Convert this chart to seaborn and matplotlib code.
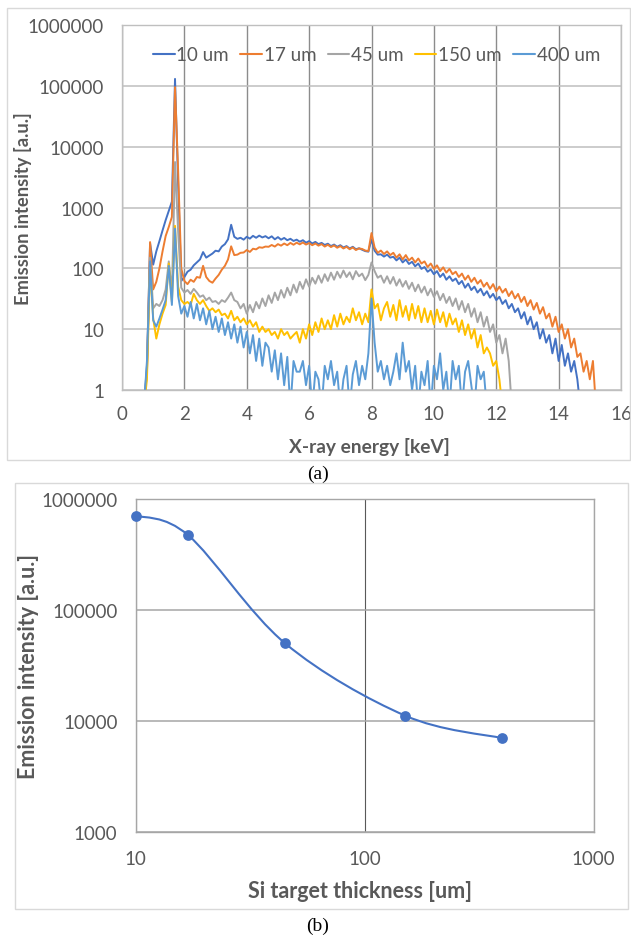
import numpy as np
import pandas as pd
import matplotlib
matplotlib.use("Agg")
import matplotlib.pyplot as plt
import seaborn as sns
from matplotlib.patches import Rectangle, PathPatch
from matplotlib.path import Path
from matplotlib.ticker import FixedLocator, FixedFormatter, NullLocator

# ---------------- data: panel (a) spectra ----------------
energy_kev = [
    0.7, 0.8, 0.9, 1.0, 1.1, 1.2, 1.3, 1.4, 1.5, 1.6,
    1.7, 1.8, 1.9, 2.0, 2.1, 2.2, 2.3, 2.4, 2.5, 2.6,
    2.7, 2.8, 2.9, 3.0, 3.1, 3.2, 3.3, 3.4, 3.5, 3.6,
    3.7, 3.8, 3.9, 4.0, 4.1, 4.2, 4.3, 4.4, 4.5, 4.6,
    4.7, 4.8, 4.9, 5.0, 5.1, 5.2, 5.3, 5.4, 5.5, 5.6,
    5.7, 5.8, 5.9, 6.0, 6.1, 6.2, 6.3, 6.4, 6.5, 6.6,
    6.7, 6.8, 6.9, 7.0, 7.1, 7.2, 7.3, 7.4, 7.5, 7.6,
    7.7, 7.8, 7.9, 8.0, 8.1, 8.2, 8.3, 8.4, 8.5, 8.6,
    8.7, 8.8, 8.9, 9.0, 9.1, 9.2, 9.3, 9.4, 9.5, 9.6,
    9.7, 9.8, 9.9, 10.0, 10.1, 10.2, 10.3, 10.4, 10.5, 10.6,
    10.7, 10.8, 10.9, 11.0, 11.1, 11.2, 11.3, 11.4, 11.5, 11.6,
    11.7, 11.8, 11.9, 12.0, 12.1, 12.2, 12.3, 12.4, 12.5, 12.6,
    12.7, 12.8, 12.9, 13.0, 13.1, 13.2, 13.3, 13.4, 13.5, 13.6,
    13.7, 13.8, 13.9, 14.0, 14.1, 14.2, 14.3, 14.4, 14.5, 14.6,
    14.7, 14.8, 14.9, 15.0, 15.1, 15.2,
]

i_10um = [
    0.5, 2.5, 260, 115, 190, 280, 420, 620, 880, 1250,
    130000, 2500, 62, 72, 88, 95, 112, 125, 140, 185,
    150, 162, 175, 195, 190, 228, 250, 300, 520, 330,
    305, 318, 296, 330, 308, 342, 318, 345, 322, 338,
    312, 336, 300, 326, 296, 316, 290, 306, 282, 296,
    274, 290, 264, 280, 256, 272, 250, 262, 242, 254,
    232, 246, 226, 240, 220, 232, 212, 226, 206, 214,
    202, 192, 188, 300, 195, 168, 170, 156, 168, 150,
    155, 135, 150, 125, 140, 118, 128, 108, 120, 98,
    105, 88, 96, 80, 90, 72, 82, 65, 74, 62,
    68, 55, 62, 48, 56, 44, 50, 40, 46, 36,
    42, 33, 38, 30, 34, 26, 30, 22, 26, 19,
    22, 15, 19, 12, 16, 10, 13, 7, 10, 6,
    8, 4, 7, 3, 5.5, 2.5, 4, 2, 3, 1.5,
    0.5,
]

i_17um = [
    0.5, 2, 270, 45, 60, 100, 190, 340, 480, 700,
    95000, 4000, 100, 62, 55, 65, 60, 72, 70, 110,
    72, 62, 58, 68, 78, 95, 110, 140, 230, 165,
    168, 180, 182, 200, 186, 210, 205, 222, 218, 228,
    226, 242, 228, 250, 236, 256, 240, 262, 244, 264,
    248, 266, 246, 260, 240, 256, 236, 250, 228, 244,
    224, 238, 218, 232, 212, 226, 206, 220, 200, 212,
    208, 196, 192, 380, 220, 180, 196, 172, 190, 165,
    180, 150, 170, 140, 165, 135, 150, 125, 145, 120,
    130, 105, 120, 98, 112, 90, 104, 85, 98, 80,
    88, 72, 82, 65, 76, 60, 70, 56, 64, 50,
    58, 46, 55, 42, 50, 40, 46, 35, 42, 32,
    38, 28, 34, 24, 30, 21, 27, 18, 23, 15,
    18, 11, 16, 9, 12, 7, 10, 5, 7, 3.5,
    4, 2, 3, 1.5, 3, 0.5,
]

i_45um = [
    0.5, 2, 150, 22, 26, 24, 30, 45, 130, 40,
    5600, 400, 48, 40, 44, 38, 46, 40, 34, 36,
    30, 33, 28, 29, 26, 30, 28, 33, 40, 30,
    28, 22, 26, 18, 25, 19, 28, 22, 32, 24,
    36, 27, 40, 30, 44, 33, 48, 36, 54, 40,
    60, 46, 66, 50, 70, 56, 76, 58, 80, 62,
    85, 65, 88, 70, 92, 72, 86, 66, 90, 74,
    82, 64, 78, 125, 90, 70, 76, 58, 74, 56,
    72, 52, 66, 50, 62, 46, 58, 42, 54, 40,
    50, 36, 46, 34, 42, 30, 38, 27, 34, 24,
    32, 21, 29, 19, 26, 16, 22, 13, 19, 11,
    16, 9, 12, 6, 8, 4, 7, 3, 0.5,
]

i_150um = [
    0.5, 1.5, 110, 15, 7, 12, 18, 25, 120, 28,
    500, 50, 30, 26, 28, 25, 38, 30, 26, 30,
    24, 20, 22, 19, 21, 17, 18, 15, 20, 14,
    16, 13, 15, 12, 14, 11, 13, 9, 11, 9,
    10, 8, 9, 7, 10, 8, 9, 7, 8, 9,
    6, 10, 7, 12, 8, 13, 9, 15, 10, 14,
    10, 17, 11, 18, 12, 16, 13, 22, 14, 19,
    12, 18, 13, 45, 22, 26, 14, 22, 28, 16,
    25, 14, 30, 16, 24, 14, 26, 15, 24, 13,
    22, 13, 20, 12, 21, 13, 19, 11, 18, 12,
    15, 9, 14, 8, 12, 7, 10, 5, 8, 4,
    5, 4, 2.5, 3, 1.5, 0.5,
]

i_400um = [
    0.5, 3, 130, 14, 11, 15, 21, 30, 110, 25,
    450, 35, 18, 24, 16, 28, 15, 26, 14, 22,
    12, 20, 10, 16, 9, 15, 8, 13, 7, 12,
    6, 11, 5, 9, 4, 8, 3, 7, 2.5, 6,
    5, 2, 4.5, 1.5, 4, 1.2, 3.5, 0.5, 3, 2,
    2, 3, 1.2, 2.5, 0.5, 2, 1.5, 0.5, 2.5, 1.5,
    3, 1.2, 2, 0.5, 1.5, 2.5, 0.5, 1.8, 3, 1.2,
    2.5, 1.5, 4, 32, 6, 2, 3, 1.5, 2.5, 1.2,
    2, 4, 1.5, 6, 2, 3, 1, 2.5, 0.5, 2,
    1.2, 3, 0.5, 2.5, 1.5, 4, 1, 2, 0.5, 3,
    1.5, 2.5, 0.5, 2, 3, 1.2, 0.5, 2.5, 1.5, 2,
    0.5,
]

series_labels = ["10 um", "17 um", "45 um", "150 um", "400 um"]
series_values = [i_10um, i_17um, i_45um, i_150um, i_400um]
series_colors = ["#4472C4", "#ED7D31", "#A5A5A5", "#FFC000", "#5B9BD5"]

energy_ticks = [0, 2, 4, 6, 8, 10, 12, 14, 16]
intensity_ticks_a = [1, 10, 100, 1000, 10000, 100000, 1000000]
intensity_labels_a = ["1", "10", "100", "1000", "10000", "100000", "1000000"]

# ---------------- data: panel (b) ----------------
thickness_um = [10, 17, 45, 150, 400]
total_intensity = [710000, 470000, 50000, 11200, 7000]
thickness_ticks = [10, 100, 1000]
thickness_labels = ["10", "100", "1000"]
intensity_ticks_b = [1000, 10000, 100000, 1000000]
intensity_labels_b = ["1000", "10000", "100000", "1000000"]

# ---------------- style ----------------
sns.set_theme(style="white")
plt.rcParams["font.family"] = ["Lato", "DejaVu Sans"]
TXT = "#595959"

fig = plt.figure(figsize=(6.31, 9.37), dpi=100)
W, H = 631.0, 937.0

def fx(px):
    return px / W

def fy(py):
    return 1 - py / H

# outer chart boxes
fig.patches.append(Rectangle((fx(7), fy(461)), fx(623), (461 - 9) / H,
                             transform=fig.transFigure, fill=False,
                             edgecolor="#d9d9d9", lw=1.0))
fig.patches.append(Rectangle((fx(15), fy(910)), fx(613), (910 - 484) / H,
                             transform=fig.transFigure, fill=False,
                             edgecolor="#d9d9d9", lw=1.0))

# ---------------- panel (a) ----------------
ax1 = fig.add_axes([fx(122), fy(391), fx(621 - 122), (391 - 26) / H])
rows = []
for lab, vals in zip(series_labels, series_values):
    for e, v in zip(energy_kev, vals):
        rows.append((lab, e, v))
df = pd.DataFrame(rows, columns=["series", "energy", "intensity"])

ax1.set_yscale("log")
sns.lineplot(data=df, x="energy", y="intensity", hue="series",
             hue_order=series_labels, palette=series_colors,
             estimator=None, sort=False, lw=1.4, ax=ax1)
ax1.set_xlim(0, 16)
ax1.set_ylim(1, 1000000)
ax1.xaxis.set_major_locator(FixedLocator(energy_ticks))
ax1.yaxis.set_major_locator(FixedLocator(intensity_ticks_a))
ax1.yaxis.set_major_formatter(FixedFormatter(intensity_labels_a))
ax1.yaxis.set_minor_locator(NullLocator())
ax1.grid(True, axis="y", color="#bfbfbf", lw=1.1)
ax1.grid(True, axis="x", color="#8c8c8c", lw=1.0)
ax1.set_axisbelow(True)
for s in ax1.spines.values():
    s.set_color("#bfbfbf")
    s.set_linewidth(1.0)
ax1.tick_params(axis="both", length=0, labelsize=13.5, colors=TXT)
ax1.tick_params(axis="y", pad=13)
ax1.tick_params(axis="x", pad=11)
ax1.set_xlabel("X-ray energy [keV]", fontsize=13.8, fontweight="bold", color=TXT)
ax1.set_ylabel("Emission intensity [a.u.]", fontsize=13.2, fontweight="bold", color=TXT)
ax1.xaxis.set_label_coords(0.496, -0.128)
ax1.yaxis.set_label_coords(-0.180, 0.5)
h, l = ax1.get_legend_handles_labels()
leg = ax1.legend(h, l, loc="center", bbox_to_anchor=(0.51, 0.918), ncol=5,
                 frameon=False, fontsize=13.5, handlelength=1.15, handletextpad=0.1,
                 columnspacing=0.6, borderaxespad=0)
for t in leg.get_texts():
    t.set_color(TXT)
for lh in leg.get_lines():
    lh.set_linewidth(1.5)

fig.text(fx(318), fy(474), "(a)", ha="center", va="center",
         fontsize=14, family="Liberation Serif", color="black")

# ---------------- panel (b) ----------------
ax2 = fig.add_axes([fx(135.6), fy(833), fx(593.6 - 135.6), (833 - 500) / H])
ax2.set_xscale("log")
ax2.set_yscale("log")
ax2.set_xlim(10, 1000)
ax2.set_ylim(1000, 1000000)

# Excel-style smoothed line (cubic Bezier through the points, built in log space)
lx = np.log10(thickness_um)
ly = np.log10(total_intensity)
n = len(lx)
verts = [(thickness_um[0], total_intensity[0])]
codes = [Path.MOVETO]
for i in range(n - 1):
    p0 = np.array([lx[max(i - 1, 0)], ly[max(i - 1, 0)]])
    p1 = np.array([lx[i], ly[i]])
    p2 = np.array([lx[i + 1], ly[i + 1]])
    p3 = np.array([lx[min(i + 2, n - 1)], ly[min(i + 2, n - 1)]])
    c1 = p1 + (p2 - p0) / 6.0
    c2 = p2 - (p3 - p1) / 6.0
    for c in (c1, c2, p2):
        verts.append((10 ** c[0], 10 ** c[1]))
        codes.append(Path.CURVE4)
ax2.add_patch(PathPatch(Path(verts, codes), transform=ax2.transData,
                        fill=False, edgecolor="#4472C4", lw=1.5, zorder=3))
sns.scatterplot(x=thickness_um, y=total_intensity, color="#4472C4", s=60,
                edgecolor="#4472C4", linewidth=0, ax=ax2, zorder=4, clip_on=False)

ax2.xaxis.set_major_locator(FixedLocator(thickness_ticks))
ax2.xaxis.set_major_formatter(FixedFormatter(thickness_labels))
ax2.yaxis.set_major_locator(FixedLocator(intensity_ticks_b))
ax2.yaxis.set_major_formatter(FixedFormatter(intensity_labels_b))
ax2.xaxis.set_minor_locator(NullLocator())
ax2.yaxis.set_minor_locator(NullLocator())
ax2.grid(True, axis="y", color="#a6a6a6", lw=1.1)
ax2.grid(True, axis="x", color="#595959", lw=0.8)
ax2.set_axisbelow(True)
for s in ax2.spines.values():
    s.set_color("#a6a6a6")
    s.set_linewidth(1.0)
ax2.tick_params(axis="both", length=0, labelsize=13.5, colors=TXT)
ax2.tick_params(axis="y", pad=13)
ax2.tick_params(axis="x", pad=13)
ax2.set_xlabel("Si target thickness [um]", fontsize=15.5, fontweight="bold", color=TXT)
ax2.set_ylabel("Emission intensity [a.u.]", fontsize=15.5, fontweight="bold", color=TXT)
ax2.xaxis.set_label_coords(0.49, -0.145)
ax2.yaxis.set_label_coords(-0.212, 0.5)

fig.text(fx(318), fy(926), "(b)", ha="center", va="center",
         fontsize=14, family="Liberation Serif", color="black")

fig.savefig("out.png", dpi=100)
